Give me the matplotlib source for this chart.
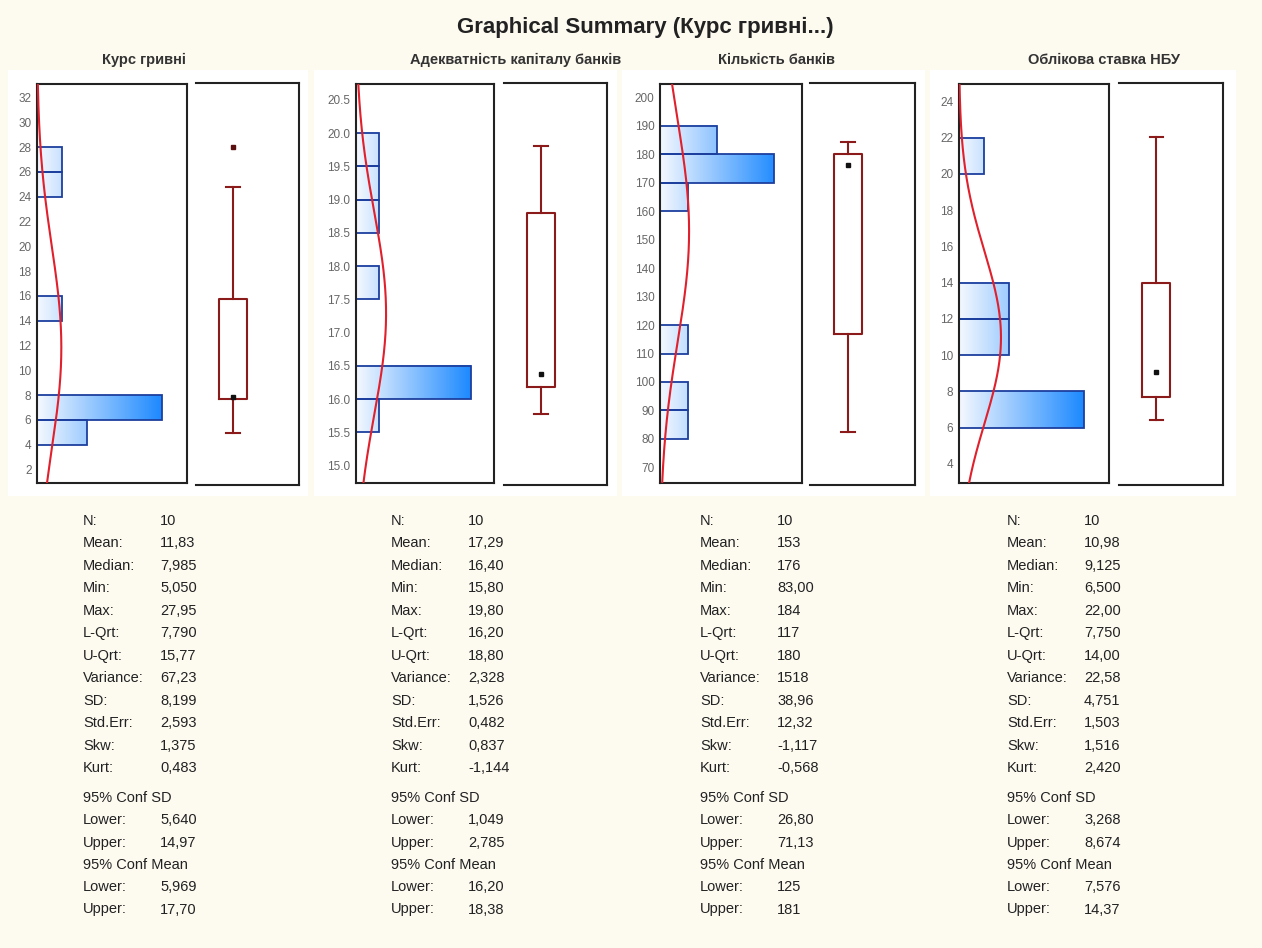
import numpy as np
import matplotlib
matplotlib.use("Agg")
import matplotlib.pyplot as plt
from matplotlib.colors import LinearSegmentedColormap
from matplotlib.patches import Rectangle

plt.rcParams['font.family'] = ['Liberation Sans', 'DejaVu Sans']

titles = ["Курс гривні", "Адекватність капіталу банків", "Кількість банків", "Облікова ставка НБУ"]

# histogram bins: lower edges, bin width, counts
bin_lows = [
    [4, 6, 14, 24, 26],
    [15.5, 16.0, 17.5, 18.5, 19.0, 19.5],
    [80, 90, 110, 160, 170, 180],
    [6, 10, 12, 20],
]
bin_width = [2, 0.5, 10, 2]
bin_counts = [
    [2, 5, 1, 1, 1],
    [1, 5, 1, 1, 1, 1],
    [1, 1, 1, 1, 4, 2],
    [5, 2, 2, 1],
]

y_limits = [(0.9, 33.1), (14.74, 20.74), (64.5, 204.7), (2.95, 24.96)]
y_ticks = [
    np.arange(2, 33, 2),
    np.arange(15.0, 20.51, 0.5),
    np.arange(70, 201, 10),
    np.arange(4, 25, 2),
]
tick_fmt = ["{:.0f}", "{:.1f}", "{:.0f}", "{:.0f}"]

# upper whisker end (non-outlier max) and outliers for the box plots
whisker_hi = [24.8, 19.8, 184, 22.0]
outliers = [[27.95], [], [], []]

stat_labels = ["N:", "Mean:", "Median:", "Min:", "Max:", "L-Qrt:", "U-Qrt:",
               "Variance:", "SD:", "Std.Err:", "Skw:", "Kurt:",
               "95% Conf SD", "Lower:", "Upper:", "95% Conf Mean", "Lower:", "Upper:"]
stat_values = [
    ["10", "11,83", "7,985", "5,050", "27,95", "7,790", "15,77", "67,23", "8,199",
     "2,593", "1,375", "0,483", "", "5,640", "14,97", "", "5,969", "17,70"],
    ["10", "17,29", "16,40", "15,80", "19,80", "16,20", "18,80", "2,328", "1,526",
     "0,482", "0,837", "-1,144", "", "1,049", "2,785", "", "16,20", "18,38"],
    ["10", "153", "176", "83,00", "184", "117", "180", "1518", "38,96",
     "12,32", "-1,117", "-0,568", "", "26,80", "71,13", "", "125", "181"],
    ["10", "10,98", "9,125", "6,500", "22,00", "7,750", "14,00", "22,58", "4,751",
     "1,503", "1,516", "2,420", "", "3,268", "8,674", "", "7,576", "14,37"],
]


def num(s):
    return float(s.replace(",", "."))


W, H = 1262, 948
fig = plt.figure(figsize=(W / 100, H / 100), dpi=100)
fig.patch.set_facecolor("#fdfaf0")

def fbox(x0, y0, x1, y1):
    return [x0 / W, 1 - y1 / H, (x1 - x0) / W, (y1 - y0) / H]

panel_bg = [(8, 308), (314, 617), (622, 925), (930, 1236)]
hist_x = [(37, 187), (356, 494), (660, 802), (959, 1109)]
box_x = [(196, 299), (504, 607), (810, 915), (1119, 1223)]
title_x = [144, 516, 777, 1104]
text_x = [83, 391, 700, 1007]
row_y = [521 + i * 22.45 for i in range(12)] + [798 + i * 22.3 for i in range(6)]

grad = LinearSegmentedColormap.from_list(
    "grad", [(0, "#f4f8fe"), (0.85, "#1a88ff"), (1, "#0a7cff")])
box_col = "#8b1a1a"
frame_col = "#222222"

fig.text(645 / W, 1 - 27 / H, "Graphical Summary (Курс гривні...)", ha="center", va="center",
         fontsize=16, fontweight="bold", color="#222222")

for i in range(4):
    fig.patches.append(Rectangle((panel_bg[i][0] / W, 1 - 496 / H),
                                 (panel_bg[i][1] - panel_bg[i][0]) / W, (496 - 70) / H,
                                 transform=fig.transFigure, facecolor="white",
                                 edgecolor="none", zorder=-10))
    fig.text(title_x[i] / W, 1 - 60 / H, titles[i], ha="center", va="center",
             fontsize=10.5, fontweight="bold", color="#333333")

    vals = [num(v) if v else None for v in stat_values[i]]
    n, mean, median, vmin, vmax, lq, uq = vals[0], vals[1], vals[2], vals[3], vals[4], vals[5], vals[6]
    sd = vals[8]
    xmax = max(bin_counts[i]) + 1
    ylo, yhi = y_limits[i]

    # histogram with normal curve
    ax = fig.add_axes(fbox(hist_x[i][0], 84, hist_x[i][1], 483))
    ax.set_facecolor("white")
    for lo, c in zip(bin_lows[i], bin_counts[i]):
        hi = lo + bin_width[i]
        g = np.linspace(0, c / xmax, 64).reshape(1, -1)
        ax.imshow(g, extent=[0, c, lo, hi], cmap=grad, vmin=0, vmax=1,
                  aspect="auto", interpolation="bilinear", zorder=1)
        ax.add_patch(Rectangle((0, lo), c, bin_width[i], facecolor="none",
                               edgecolor="#1c3f9e", linewidth=1.3, zorder=2))
    yy = np.linspace(ylo, yhi, 400)
    dens = n * bin_width[i] * np.exp(-0.5 * ((yy - mean) / sd) ** 2) / (sd * np.sqrt(2 * np.pi))
    ax.plot(dens, yy, color="#e0202c", linewidth=1.5, zorder=3)
    ax.set_xlim(0, xmax)
    ax.set_ylim(ylo, yhi)
    ax.set_xticks([])
    ax.set_yticks(y_ticks[i])
    ax.set_yticklabels([tick_fmt[i].format(t) for t in y_ticks[i]])
    ax.tick_params(axis="y", length=0, pad=4, labelsize=8.5, labelcolor="#666666")
    for s in ax.spines.values():
        s.set_color(frame_col)
        s.set_linewidth(1.5)

    # box plot: quartile box, whiskers, median point
    bx = fig.add_axes(fbox(box_x[i][0], 83, box_x[i][1], 485))
    bx.set_facecolor("white")
    stats = [dict(med=median, q1=lq, q3=uq, whislo=vmin, whishi=whisker_hi[i],
                  fliers=outliers[i])]
    bx.bxp(stats, positions=[0.36], widths=0.27, capwidths=0.13,
           boxprops=dict(color=box_col, linewidth=1.5),
           whiskerprops=dict(color=box_col, linewidth=1.5),
           capprops=dict(color=box_col, linewidth=1.5),
           medianprops=dict(linewidth=0),
           flierprops=dict(marker="s", markersize=2.5, markerfacecolor="#5a1010",
                           markeredgecolor="#5a1010"))
    bx.plot([0.36], [median], marker="s", markersize=2.5, color="#111111")
    bx.set_xlim(0, 1)
    bx.set_ylim(ylo, yhi)
    bx.set_xticks([])
    bx.set_yticks([])
    bx.spines["left"].set_visible(False)
    for s in ["top", "right", "bottom"]:
        bx.spines[s].set_color(frame_col)
        bx.spines[s].set_linewidth(1.5)

    # summary statistics
    for lab, val, y in zip(stat_labels, stat_values[i], row_y):
        fig.text(text_x[i] / W, 1 - y / H, lab, ha="left", va="center",
                 fontsize=10.5, color="#222222")
        if val:
            fig.text((text_x[i] + 77) / W, 1 - y / H, val, ha="left", va="center",
                     fontsize=10.5, color="#222222")

fig.savefig("out.png", dpi=100, facecolor=fig.get_facecolor())
